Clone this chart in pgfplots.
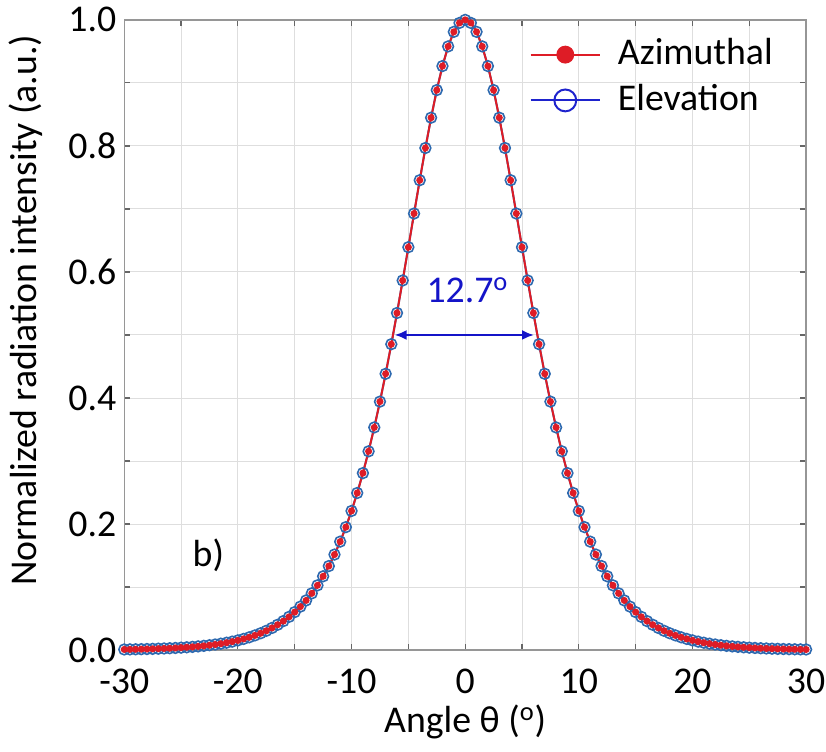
\documentclass[border=0pt]{standalone}
\usepackage{fontspec}
\setmainfont{Carlito}
\usepackage{pgfplots}
\usepackage{pgfplotstable}
\pgfplotsset{compat=1.18}
\usetikzlibrary{arrows.meta,calc}
\definecolor{azred}{RGB}{222,28,38}
\definecolor{elblue}{RGB}{45,105,175}
\definecolor{legblue}{RGB}{30,35,205}
\definecolor{annblue}{RGB}{20,20,200}
\definecolor{gridgray}{RGB}{222,222,222}
\definecolor{framegray}{RGB}{150,150,150}
\pgfplotstableread{
x y
-30 0.00097
-29.5 0.00111
-29 0.00127
-28.5 0.00146
-28 0.00168
-27.5 0.00193
-27 0.00222
-26.5 0.00255
-26 0.00293
-25.5 0.00337
-25 0.00386
-24.5 0.00444
-24 0.00510
-23.5 0.00585
-23 0.00672
-22.5 0.00772
-22 0.00887
-21.5 0.01018
-21 0.01169
-20.5 0.01342
-20 0.0154
-19.5 0.0177
-19 0.0203
-18.5 0.0233
-18 0.0267
-17.5 0.0306
-17 0.0351
-16.5 0.0402
-16 0.0460
-15.5 0.0527
-15 0.0603
-14.5 0.0690
-14 0.0788
-13.5 0.0900
-13 0.1027
-12.5 0.1171
-12 0.1333
-11.5 0.1516
-11 0.1721
-10.5 0.1951
-10 0.2208
-9.5 0.2493
-9 0.2808
-8.5 0.3154
-8 0.3533
-7.5 0.3943
-7 0.4384
-6.5 0.4854
-6 0.5349
-5.5 0.5865
-5 0.6393
-4.5 0.6927
-4 0.7456
-3.5 0.7967
-3 0.8448
-2.5 0.8886
-2 0.9267
-1.5 0.9579
-1 0.9810
-0.5 0.9952
0 1.0000
0.5 0.9952
1 0.9810
1.5 0.9579
2 0.9267
2.5 0.8886
3 0.8448
3.5 0.7967
4 0.7456
4.5 0.6927
5 0.6393
5.5 0.5865
6 0.5349
6.5 0.4854
7 0.4384
7.5 0.3943
8 0.3533
8.5 0.3154
9 0.2808
9.5 0.2493
10 0.2208
10.5 0.1951
11 0.1721
11.5 0.1516
12 0.1333
12.5 0.1171
13 0.1027
13.5 0.0900
14 0.0788
14.5 0.0690
15 0.0603
15.5 0.0527
16 0.0460
16.5 0.0402
17 0.0351
17.5 0.0306
18 0.0267
18.5 0.0233
19 0.0203
19.5 0.0177
20 0.0154
20.5 0.01342
21 0.01169
21.5 0.01018
22 0.00887
22.5 0.00772
23 0.00672
23.5 0.00585
24 0.00510
24.5 0.00444
25 0.00386
25.5 0.00337
26 0.00293
26.5 0.00255
27 0.00222
27.5 0.00193
28 0.00168
28.5 0.00146
29 0.00127
29.5 0.00111
30 0.00097
}\datatab
\begin{document}
\fontsize{19}{22.8}\selectfont
\begin{tikzpicture}
\begin{axis}[
  name=ax,
  scale only axis,
  width=343pt, height=317pt,
  xmin=-30, xmax=30, ymin=0, ymax=1,
  clip=false,
  axis line style={framegray, line width=0.75pt},
  xtick={-30,-20,...,30},
  xticklabels={-30,-20,-10,0,10,20,30},
  minor xtick={-25,-15,...,25},
  ytick={0,0.2,0.4,0.6,0.8,1.0},
  yticklabels={0.0,0.2,0.4,0.6,0.8,1.0},
  minor ytick={0.1,0.3,0.5,0.7,0.9},
  grid=both,
  major grid style={gridgray, line width=0.5pt},
  minor grid style={gridgray, line width=0.5pt},
  tick style={black!60, line width=0.6pt},
  major tick length=3pt, minor tick length=3pt,
  tick align=inside,
  xticklabel style={anchor=base, yshift=-22pt},
  yticklabel style={anchor=east, xshift=2.5pt},
  xlabel={Angle θ (\textsuperscript{o})},
  xlabel style={at={(axis description cs:0.5,-0.131)}, anchor=base},
  ylabel={Normalized radiation intensity (a.u.)},
  ylabel style={at={(axis description cs:-0.1443,0.5394)}, anchor=center},
  reverse legend,
  legend style={draw=none, fill=none, at={(axis description cs:0.585,0.985)}, anchor=north west,
    row sep=2pt, column sep=6pt, nodes={inner sep=2.5pt}},
  legend cell align=left,
  legend image code/.code={\draw[mark repeat=2,mark phase=2,#1] plot coordinates {(0pt,0pt) (17.5pt,0pt) (35pt,0pt)};},
]
\addplot[color=elblue, line width=1pt, mark=o, mark size=2.7pt, mark options={line width=0.8pt, draw=elblue},
  legend image post style={color=legblue, mark size=5.5pt, mark options={line width=1pt, draw=legblue, fill=white}}]
  table[x=x,y=y] {\datatab};
\addlegendentry{Elevation}
\addplot[color=azred, line width=1pt, mark=*, mark size=1.25pt, mark options={fill=azred, draw=azred},
  legend image post style={mark size=4pt}]
  table[x=x,y=y] {\datatab};
\addlegendentry{Azimuthal}
\draw[annblue, line width=1pt, {Latex[length=6pt,width=5pt]}-{Latex[length=6pt,width=5pt]}] (axis cs:-6.2,0.5) -- (axis cs:6.05,0.5);
\node[annblue] at (axis cs:0.2,0.571) {12.7\textsuperscript{o}};
\node at (axis cs:-22.6,0.151) {b)};
\end{axis}
\pgfresetboundingbox
\path ($(ax.south west)+(-62.5pt,-51pt)$) rectangle ($(ax.north east)+(10pt,10pt)$);
\end{tikzpicture}
\end{document}
